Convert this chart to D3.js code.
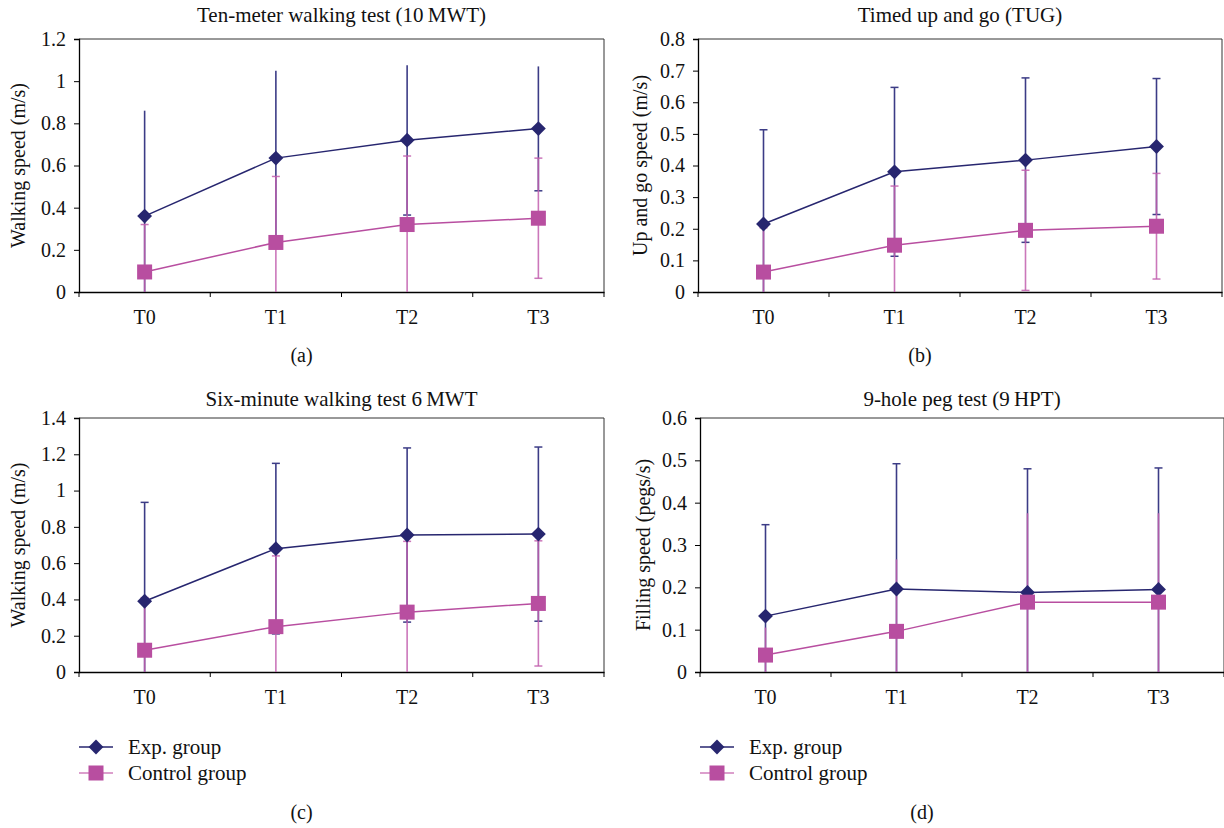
<!DOCTYPE html>
<html><head><meta charset="utf-8">
<script src="https://cdn.jsdelivr.net/npm/d3@7"></script>
<style>body{margin:0;background:#fff}svg{display:block}text{font-family:"Liberation Serif","DejaVu Serif",serif;fill:#111}</style>
</head><body><svg id="c" width="1224" height="828"></svg>
<script>
const categories = ["T0","T1","T2","T3"];
const seriesNames = ["Exp. group","Control group"];

const titles = ["Ten-meter walking test (10\u2009MWT)","Timed up and go (TUG)","Six-minute walking test 6\u2009MWT","9-hole peg test (9\u2009HPT)"];
const yLabels = ["Walking speed (m/s)","Up and go speed (m/s)","Walking speed (m/s)","Filling speed (pegs/s)"];
const panelLetters = ["(a)","(b)","(c)","(d)"];
const yMax = [1.2, 0.8, 1.4, 0.6];
const yStep = [0.2, 0.1, 0.2, 0.1];

const expMean = [[0.36,0.635,0.72,0.775],[0.215,0.38,0.417,0.46],[0.39,0.68,0.755,0.76],[0.132,0.196,0.188,0.195]];
const expSD   = [[0.50,0.415,0.355,0.295],[0.298,0.267,0.26,0.215],[0.545,0.47,0.48,0.48],[0.216,0.296,0.292,0.287]];
const ctlMean = [[0.095,0.235,0.32,0.35],[0.063,0.148,0.195,0.208],[0.12,0.25,0.33,0.378],[0.04,0.096,0.165,0.165]];
const ctlSD   = [[0.225,0.313,0.325,0.285],[0.14,0.187,0.19,0.167],[0.29,0.39,0.39,0.345],[0.065,0.17,0.21,0.21]];

const EXP = "#27266f", CTL = "#b84ea0", EXPBAR = "#3c3c86", CTLBAR = "#c25fae", CTLLEG = "#d17fbd";

const layout = [
  {x0:79, x1:604, y0:39, y1:292, ty:15, cy:355, yl:18, legend:false},
  {x0:698, x1:1222, y0:39, y1:292, ty:15, cy:355, yl:640, legend:false},
  {x0:79, x1:604, y0:418, y1:672, ty:399, cy:812, yl:18, legend:true},
  {x0:700, x1:1224, y0:418, y1:672, ty:399, cy:812, yl:643, legend:true}
];
const svg = d3.select("#c");
const FONT = '"Liberation Serif",serif';

layout.forEach((L,i)=>{
  const g = svg.append("g");
  const x = d3.scaleBand().domain(categories).range([L.x0, L.x1]);
  const y = d3.scaleLinear().domain([0, yMax[i]]).range([L.y1, L.y0]);
  const ticks = d3.range(0, yMax[i] + yStep[i]/2, yStep[i]);
  const clip = v => Math.max(0, Math.min(yMax[i], v));

  g.append("path").attr("d", `M${L.x0},${L.y0}H${L.x1}V${L.y1}`).attr("fill","none").attr("stroke","#333").attr("stroke-width",1);

  const ya = g.append("g").attr("transform",`translate(${L.x0},0)`)
    .call(d3.axisLeft(y).tickValues(ticks).tickSize(5).tickPadding(8).tickFormat(d=>+d.toFixed(2)+""));
  ya.select(".domain").attr("stroke","#000").attr("stroke-width",1.3);
  ya.selectAll("line").attr("stroke","#000");
  ya.selectAll("text").style("font-size","20px").attr("fill","#111").style("font-family",FONT);

  const xa = g.append("g").attr("transform",`translate(0,${L.y1})`)
    .call(d3.axisBottom(x).tickSize(0).tickPadding(18));
  xa.select(".domain").attr("stroke","#000").attr("stroke-width",1.3);
  xa.selectAll("text").style("font-size","20px").attr("fill","#111").style("font-family",FONT);
  const bounds = categories.map(c=>x(c)).concat([L.x1]);
  g.selectAll(".xt").data(bounds).join("line")
    .attr("x1",d=>d).attr("x2",d=>d).attr("y1",L.y1).attr("y2",L.y1+5).attr("stroke","#000");

  const cx = c => x(c) + x.bandwidth()/2;
  const drawBars = (mean, sd, color, capsTop, capsBot, op) => {
    categories.forEach((c,k)=>{
      const hi = mean[k]+sd[k], lo = mean[k]-sd[k];
      g.append("line").attr("x1",cx(c)).attr("x2",cx(c))
        .attr("y1",y(clip(hi))).attr("y2",y(clip(lo)))
        .attr("stroke",color).attr("stroke-width",1.6).attr("stroke-opacity",op);
      if (capsTop && hi <= yMax[i]) g.append("line").attr("x1",cx(c)-4).attr("x2",cx(c)+4)
        .attr("y1",y(hi)).attr("y2",y(hi)).attr("stroke",color).attr("stroke-width",1.5).attr("stroke-opacity",op);
      if (capsBot && lo > 0) g.append("line").attr("x1",cx(c)-4).attr("x2",cx(c)+4)
        .attr("y1",y(lo)).attr("y2",y(lo)).attr("stroke",color).attr("stroke-width",1.5).attr("stroke-opacity",op);
    });
  };
  drawBars(expMean[i], expSD[i], EXPBAR, i!==0, true, 1);
  drawBars(ctlMean[i], ctlSD[i], CTLBAR, i!==3, true, 0.85);

  const line = d3.line().x((d,k)=>cx(categories[k])).y(d=>y(d));
  g.append("path").attr("d", line(expMean[i])).attr("fill","none").attr("stroke",EXP).attr("stroke-width",1.5);
  g.append("path").attr("d", line(ctlMean[i])).attr("fill","none").attr("stroke",CTL).attr("stroke-width",1.5);

  const diamond = d3.symbol().type(d3.symbolSquare).size(110);
  g.selectAll(".d").data(expMean[i]).join("path")
    .attr("d", diamond).attr("transform",(d,k)=>`translate(${cx(categories[k])},${y(d)}) rotate(45)`).attr("fill",EXP);
  g.selectAll(".s").data(ctlMean[i]).join("rect")
    .attr("x",(d,k)=>cx(categories[k])-7.5).attr("y",d=>y(d)-7.5).attr("width",15).attr("height",15).attr("fill",CTL);

  g.append("text").attr("x",(L.x0+L.x1)/2).attr("y",L.ty).attr("text-anchor","middle").attr("dominant-baseline","central")
    .style("font-size","21px").text(titles[i]);
  g.append("text").attr("transform",`translate(${L.yl},${(L.y0+L.y1)/2}) rotate(-90)`).attr("text-anchor","middle").attr("dominant-baseline","central")
    .style("font-size","20px").text(yLabels[i]);
  g.append("text").attr("x",(L.x0+L.x1)/2 - 40).attr("y",L.cy).attr("text-anchor","middle").attr("dominant-baseline","central")
    .style("font-size","20px").text(panelLetters[i]);

  if (L.legend) {
    const lg = g.append("g").attr("transform",`translate(${L.x0},747)`);
    [0,1].forEach(j=>{
      const yy = j*26, col = j===0?EXP:CTL;
      lg.append("line").attr("x1",0).attr("x2",34).attr("y1",yy).attr("y2",yy).attr("stroke",j===0?EXP:CTLLEG).attr("stroke-width",1.5);
      if (j===0) lg.append("path").attr("d",diamond).attr("transform",`translate(17,${yy}) rotate(45)`).attr("fill",col);
      else lg.append("rect").attr("x",9.5).attr("y",yy-7.5).attr("width",15).attr("height",15).attr("fill",col);
      lg.append("text").attr("x",49).attr("y",yy).attr("dominant-baseline","central").style("font-size","21px").text(seriesNames[j]);
    });
  }
});
</script></body></html>
